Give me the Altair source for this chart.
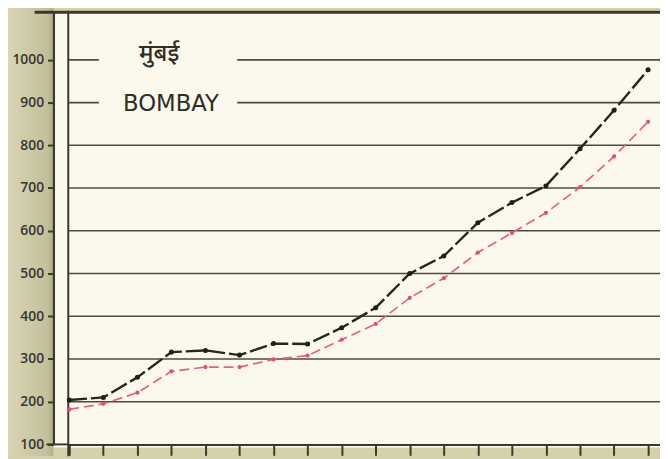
import altair as alt
import pandas as pd

# ---- data ----
idx = list(range(18))
black_vals = [204, 210, 257, 316, 320, 309, 336, 335, 373, 420, 500, 541, 619, 666, 705, 792, 882, 977]
red_vals = [182, 195, 221, 271, 281, 281, 299, 308, 345, 382, 443, 489, 549, 595, 642, 702, 774, 855]
y_ticks = [100, 200, 300, 400, 500, 600, 700, 800, 900, 1000]
grid_vals = [200, 300, 400, 500, 600, 700, 800, 900, 1000]
title_hi = ["मुंबई"]
title_en = ["BOMBAY"]

W, H = 599, 439
DARK = "#3a382e"
CREAM = "#fbf9ec"
KHAKI = "#d6d1ad"

df_black = pd.DataFrame({"i": idx, "v": black_vals})
df_red = pd.DataFrame({"i": idx, "v": red_vals})
df_grid = pd.DataFrame({"v": grid_vals})
one = pd.DataFrame({"a": [0]})

xscale = alt.Scale(domain=[-0.03, 17.35], nice=False, zero=False)
yscale = alt.Scale(domain=[100, 1115], nice=False, zero=False)

x_axis = alt.Axis(values=idx, labels=False, tickSize=11, tickWidth=2,
                  tickColor=DARK, domainColor=DARK, domainWidth=2,
                  grid=False, zindex=2)
y_axis = alt.Axis(values=y_ticks, format="d", offset=15, tickSize=6, tickWidth=2,
                  tickColor=DARK, domainColor=DARK, domainWidth=2.2,
                  labelFont="Open Sans", labelFontSize=14, labelFontWeight=600,
                  labelColor="#38372d", labelPadding=4, grid=False, zindex=2)

def xe():
    return alt.X("i:Q", scale=xscale, title=None, axis=x_axis)

def ye():
    return alt.Y("v:Q", scale=yscale, title=None, axis=y_axis)

strip = alt.Chart(one).mark_rect(
    color=alt.Gradient(gradient="linear", x1=0, x2=1, y1=0, y2=0,
                       stops=[alt.GradientStop(color="#d9d5b6", offset=0),
                              alt.GradientStop(color="#c4c09c", offset=0.85),
                              alt.GradientStop(color="#b3af8c", offset=1)])
).encode(x=alt.value(-61), x2=alt.value(-15), y=alt.value(-8), y2=alt.value(H + 12))

cream = alt.Chart(one).mark_rect(color=CREAM).encode(
    x=alt.value(-15), x2=alt.value(W), y=alt.value(0), y2=alt.value(H + 3))

grid = alt.Chart(df_grid).mark_rule(color="#4d4b42", strokeWidth=1.6).encode(
    y=ye(), x=alt.value(0), x2=alt.value(W))

mask = alt.Chart(one).mark_rect(color=CREAM).encode(
    x=alt.value(31), x2=alt.value(171), y=alt.value(30), y2=alt.value(110))

txt_hi = alt.Chart(pd.DataFrame({"t": title_hi})).mark_text(
    font="Noto Sans", fontSize=24, fontWeight=500, color="#2e2d28",
    baseline="middle", align="center"
).encode(text="t:N", x=alt.value(92), y=alt.value(44))

txt_en = alt.Chart(pd.DataFrame({"t": title_en})).mark_text(
    font="DejaVu Sans", fontSize=23, color="#2e2d28", baseline="middle", align="center"
).encode(text="t:N", x=alt.value(104), y=alt.value(95))

top_line = alt.Chart(one).mark_rule(color=DARK, strokeWidth=3).encode(
    x=alt.value(-34), x2=alt.value(W), y=alt.value(1.5))
left_line = alt.Chart(one).mark_rule(color=DARK, strokeWidth=2).encode(
    x=alt.value(0), y=alt.value(0), y2=alt.value(H + 12))
base_ext = alt.Chart(one).mark_rule(color=DARK, strokeWidth=2).encode(
    x=alt.value(-22), x2=alt.value(0), y=alt.value(H))

red_line = alt.Chart(df_red).mark_line(color="#e8607c", strokeWidth=1.7,
                                        strokeDash=[10, 5]).encode(x=xe(), y=ye())
red_pts = alt.Chart(df_red).mark_point(filled=True, color="#e0506c", size=18,
                                        opacity=1).encode(x=xe(), y=ye())
black_line = alt.Chart(df_black).mark_line(color="#262622", strokeWidth=2.4,
                                            strokeDash=[18, 4]).encode(x=xe(), y=ye())
black_pts = alt.Chart(df_black).mark_point(filled=True, color="#1e1e1a", size=26,
                                            opacity=1).encode(x=xe(), y=ye())

chart = alt.layer(
    strip, cream, grid, mask, txt_hi, txt_en, top_line, left_line, base_ext,
    red_line, red_pts, black_line, black_pts
).properties(
    width=W, height=H, background=KHAKI,
    padding={"left": 61, "top": 0, "right": 0, "bottom": 12},
    autosize=alt.AutoSizeParams(type="none")
).configure_view(stroke=None)

chart.save("out.html", embed_options={"renderer": "svg", "actions": False})
